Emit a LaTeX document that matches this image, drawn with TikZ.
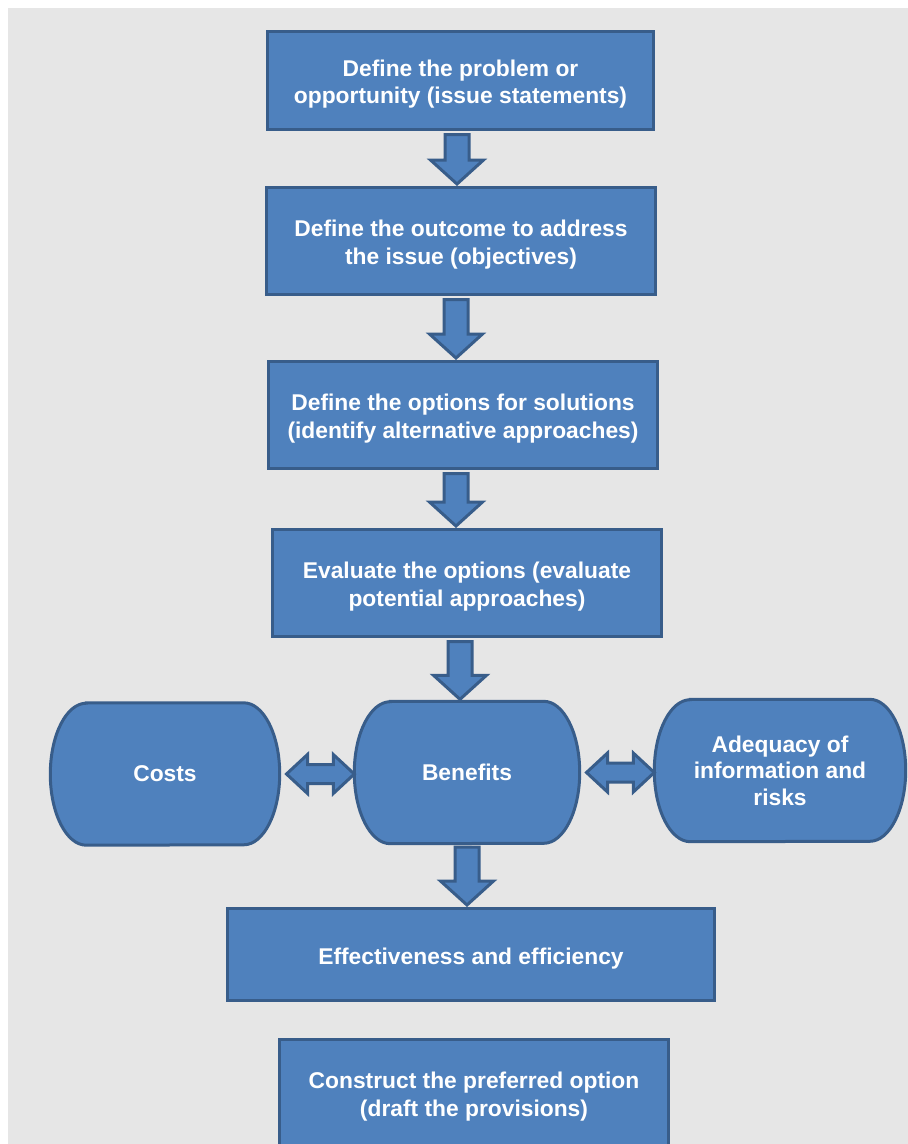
\documentclass[tikz,border=0pt]{standalone}
\usepackage{fontspec}
\setmainfont{Liberation Sans}
\usetikzlibrary{calc, backgrounds}

\definecolor{boxfill}{HTML}{4F81BD}
\definecolor{boxline}{HTML}{385D8A}
\definecolor{bggray}{HTML}{E6E6E6}

\begin{document}
\begin{tikzpicture}[
    x=1pt, y=-1pt,
    % Definición de estilos
    box base/.style={rectangle, fill=boxfill, draw=boxline, line width=3pt, inner sep=0pt, align=center, text=white, font=\fontsize{22.8}{27.5}\selectfont\bfseries, execute at begin node={\rule{0pt}{24pt}}},
    two lines/.style={execute at begin node={\rule{0pt}{51pt}}}, % Baja el texto de dos líneas
    pill text/.style={rectangle, inner sep=0pt, align=center, text=white, font=\fontsize{22.8}{26.5}\selectfont\bfseries, minimum height=142pt},
    pill shape/.style={fill=boxfill, draw=boxline, line width=3pt}, % Extremos elípticos
    block arrow/.style={fill=boxfill, draw=boxline, line width=3pt} % Flechas de bloque
]

    \useasboundingbox (0,0) rectangle (908,1144);

    % =========================================================================
    % 1. Pasos del proceso (cajas rectangulares)
    % =========================================================================
    \node[box base, two lines, minimum width=386pt, minimum height=98pt] (b1) at (460.5,80.5)
        {Define the problem or\\opportunity (issue statements)};
    \node[box base, two lines, minimum width=389pt, minimum height=107pt] (b2) at (461,241)
        {Define the outcome to address\\the issue (objectives)};
    \node[box base, two lines, minimum width=389pt, minimum height=107pt] (b3) at (463,415)
        {Define the options for solutions\\(identify alternative approaches)};
    \node[box base, two lines, minimum width=389pt, minimum height=107pt] (b4) at (467,583)
        {Evaluate the options (evaluate\\potential approaches)};

    % =========================================================================
    % 2. Criterios de evaluación (formas redondeadas)
    % =========================================================================
    \node[pill text, minimum width=229pt] (costs) at (165,774) {Costs};
    \node[pill text, minimum width=225pt] (benefits) at (467,772.5) {Benefits};
    \node[pill text, minimum width=251pt] (adequacy) at (780,770.5)
        {Adequacy of\\information and\\risks};

    % =========================================================================
    % 3. Resultado y paso final
    % =========================================================================
    \node[box base, minimum width=487pt, minimum height=92pt] (b5) at (471,954.5)
        {Effectiveness and efficiency};
    \node[box base, two lines, minimum width=389pt, minimum height=107pt] (b6) at (474,1093)
        {Construct the preferred option\\(draft the provisions)};

    % Fondo gris y formas de los criterios (detrás del texto)
    \begin{pgfonlayer}{background}
        \fill[bggray] (8,8) rectangle (908,1144);
        \foreach \n in {costs, benefits, adequacy} {
            \draw[pill shape] ($(\n.north west)+(36,0)$) -- ($(\n.north east)+(-36,0)$)
                arc[start angle=90, end angle=-90, x radius=36pt, y radius=71pt]
                -- ($(\n.south west)+(36,0)$)
                arc[start angle=270, end angle=90, x radius=36pt, y radius=71pt] -- cycle;
        }
    \end{pgfonlayer}

    % =========================================================================
    % 4. Flechas de bloque hacia abajo
    % =========================================================================
    \foreach \a/\b/\dx in {b1/b2/-3.5, b2/b3/-5, b3/b4/-7, b4/benefits/-7, benefits/b5/0} {
        \draw[block arrow] let \p1=($(\a.south)+(\dx,0)$), \p2=(\b.north) in
            (\x1-12pt,\y1-3.5pt) -- (\x1+12pt,\y1-3.5pt) -- (\x1+12pt,\y2+26pt)
            -- (\x1+26.5pt,\y2+26pt) -- (\x1,\y2+2pt) -- (\x1-26.5pt,\y2+26pt)
            -- (\x1-12pt,\y2+26pt) -- cycle;
    }

    % =========================================================================
    % 5. Flechas dobles entre criterios
    % =========================================================================
    \foreach \a/\b in {costs/benefits, benefits/adequacy} {
        \draw[block arrow] let \p1=($(\a.east)+(6.8,0)$), \p2=(\b.west) in
            (\x1,\y1) -- (\x1+21pt,\y1+19.5pt) -- (\x1+21pt,\y1+9.5pt)
            -- (\x2-21pt,\y1+9.5pt) -- (\x2-21pt,\y1+19.5pt) -- (\x2,\y1)
            -- (\x2-21pt,\y1-19.5pt) -- (\x2-21pt,\y1-9.5pt)
            -- (\x1+21pt,\y1-9.5pt) -- (\x1+21pt,\y1-19.5pt) -- cycle;
    }

\end{tikzpicture}
\end{document}
